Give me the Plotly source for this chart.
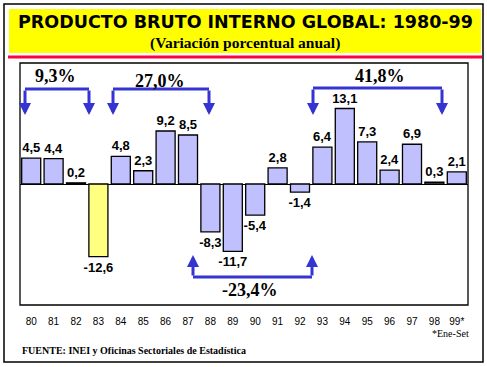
import plotly.graph_objects as go

years = ["80", "81", "82", "83", "84", "85", "86", "87", "88", "89",
         "90", "91", "92", "93", "94", "95", "96", "97", "98", "99*"]
growth = [4.5, 4.4, 0.2, -12.6, 4.8, 2.3, 9.2, 8.5, -8.3, -11.7,
          -5.4, 2.8, -1.4, 6.4, 13.1, 7.3, 2.4, 6.9, 0.3, 2.1]
highlight_year = "83"
period_labels = ["9,3%", "27,0%", "41,8%", "-23,4%"]

title_text = "PRODUCTO BRUTO INTERNO GLOBAL: 1980-99"
subtitle_text = "(Variación porcentual anual)"
source_text = "FUENTE: INEI y Oficinas Sectoriales de Estadística"
note_text = "*Ene-Set"

W, H = 487, 367
L, R, T, B = 20, 468, 63, 305


def fx(px):
    return (px - L) / (R - L)


def fy(py):
    return (B - py) / (B - T)


colors = ["#FFFF80" if y == highlight_year else "#C0C0FF" for y in years]
texts = [f"{v:.1f}".replace(".", ",") for v in growth]

fig = go.Figure()
fig.add_trace(go.Bar(
    x=years, y=growth, text=texts, textposition="outside", constraintext="none",
    marker=dict(color=colors, line=dict(color="black", width=1.3)),
    outsidetextfont=dict(family="Liberation Sans", size=13, color="black", weight="bold"),
    cliponaxis=False, hoverinfo="skip",
))

blue = "#3434D0"
shapes = []
annotations = []

# outer frame
shapes.append(dict(type="rect", xref="paper", yref="paper", x0=fx(4), x1=fx(483), y0=fy(362), y1=fy(4),
                   line=dict(color="black", width=1.5)))
# yellow title box
shapes.append(dict(type="rect", xref="paper", yref="paper", x0=fx(9), x1=fx(481), y0=fy(53), y1=fy(9),
                   line=dict(width=0), fillcolor="#FFFF00", layer="below"))
# red line
shapes.append(dict(type="line", xref="paper", yref="paper", x0=fx(8), x1=fx(482), y0=fy(57), y1=fy(57),
                   line=dict(color="#FF0040", width=3)))
# plot frame
shapes.append(dict(type="rect", xref="paper", yref="paper", x0=0, x1=1, y0=0, y1=1,
                   line=dict(color="black", width=1.3)))

annotations.append(dict(text=title_text, xref="paper", yref="paper", x=fx(245), y=fy(22), showarrow=False,
                        font=dict(family="DejaVu Sans", size=17.5, color="black", weight="bold"),
                        xanchor="center", yanchor="middle"))
annotations.append(dict(text=subtitle_text, xref="paper", yref="paper", x=fx(245), y=fy(43), showarrow=False,
                        font=dict(family="Liberation Serif", size=15.5, color="black", weight="bold"),
                        xanchor="center", yanchor="middle"))

# brackets: (x_left, x_right, y_bar, y_tip, label, label_x, label_y)
brackets = [
    (25, 89, 89, 115, period_labels[0], 55, 76),
    (113, 209, 89, 115, period_labels[1], 160, 81),
    (313, 442, 88, 115, period_labels[2], 380, 76),
    (193, 312, 277, 255, period_labels[3], 250, 290),
]
for xl, xr, yb, yt, lab, lx, ly in brackets:
    shapes.append(dict(type="line", xref="paper", yref="paper", x0=fx(xl), x1=fx(xr), y0=fy(yb), y1=fy(yb),
                       line=dict(color=blue, width=3)))
    for xa in (xl, xr):
        annotations.append(dict(x=fx(xa), y=fy(yt), xref="paper", yref="paper", text="",
                                showarrow=True, ax=0, ay=yb - yt, arrowhead=2, arrowsize=0.8,
                                arrowwidth=3, arrowcolor=blue, standoff=0, startstandoff=0))
    annotations.append(dict(text=lab, xref="paper", yref="paper", x=fx(lx), y=fy(ly), showarrow=False,
                            font=dict(family="Liberation Serif", size=18, color="black", weight="bold"),
                            xanchor="center", yanchor="middle"))

annotations.append(dict(text=note_text, xref="paper", yref="paper", x=fx(471), y=fy(333), showarrow=False,
                        font=dict(family="Liberation Serif", size=10, color="black"),
                        xanchor="right", yanchor="middle"))
annotations.append(dict(text=source_text, xref="paper", yref="paper", x=fx(20), y=fy(350), showarrow=False,
                        font=dict(family="Liberation Serif", size=10, color="black", weight="bold"),
                        xanchor="left", yanchor="middle"))

fig.update_layout(
    width=W, height=H,
    margin=dict(l=L, r=W - R, t=T, b=H - B, pad=0),
    paper_bgcolor="white", plot_bgcolor="white",
    showlegend=False, bargap=0.15,
    shapes=shapes, annotations=annotations,
    xaxis=dict(type="category", showgrid=False, showline=False, zeroline=False,
               ticks="outside", ticklen=7, tickcolor="rgba(0,0,0,0)",
               tickfont=dict(family="Liberation Sans", size=10, color="black"),
               fixedrange=True),
    yaxis=dict(range=[-21, 21], showgrid=False, showticklabels=False, zeroline=True,
               zerolinecolor="black", zerolinewidth=1.3, showline=False, fixedrange=True),
)

fig.write_html("out.html", config={"displayModeBar": False},
               post_script="document.body.style.margin='0';document.body.style.padding='0';")
